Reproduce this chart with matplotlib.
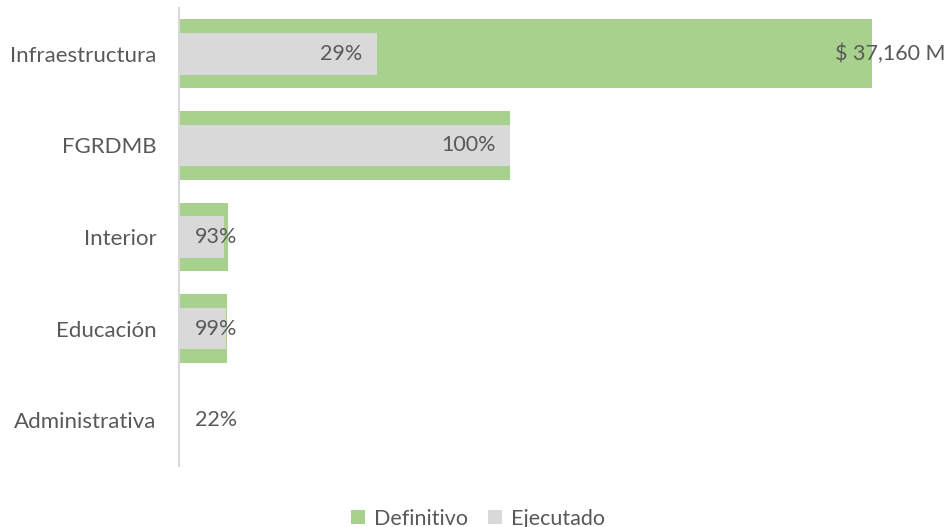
import numpy as np
import matplotlib.pyplot as plt

# datos (millones)
categorias = ["Infraestructura", "FGRDMB", "Interior", "Educación", "Administrativa"]
definitivo = [37160, 17760, 2610, 2560, 30]
ejecutado = [10600, 17760, 2420, 2530, 7]
pct_labels = ["29%", "100%", "93%", "99%", "22%"]
total_label = "$ 37,160 M"

verde = "#A9D18E"
gris = "#D9D9D9"
txt = "#595959"

plt.rcParams['font.family'] = ['Lato', 'DejaVu Sans']
fs = 15.5

fig = plt.figure(figsize=(9.5, 5.27), dpi=100)
ax = fig.add_axes([179/950, 1 - 466/527, (946-179)/950, (466-8)/527])

y = np.arange(len(categorias))
ax.barh(y, definitivo, height=0.75, color=verde, label="Definitivo")
ax.barh(y, ejecutado, height=0.455, color=gris, label="Ejecutado")

xmax = 37160 * (946 - 179) / (871.7 - 179)
ax.set_xlim(0, xmax)
ax.set_ylim(len(categorias) - 0.5, -0.5)

# etiquetas de porcentaje
for i, (v, lab) in enumerate(zip(ejecutado, pct_labels)):
    if v > 5000:
        ax.annotate(lab, (v, i), xytext=(-10.5, 0), textcoords="offset points",
                    ha="right", va="center", fontsize=fs, color=txt)
    else:
        ax.annotate(lab, (0, i), xytext=(11.5, 0), textcoords="offset points",
                    ha="left", va="center", fontsize=fs, color=txt)

ax.annotate(total_label, (definitivo[0], 0), xytext=(-26.4, 0), textcoords="offset points",
            ha="left", va="center", fontsize=fs, color=txt)

ax.set_yticks(y)
ax.set_yticklabels(categorias, fontsize=16, color=txt)
ax.tick_params(axis="y", length=0, pad=16)
ax.set_xticks([])
for s in ["top", "right", "bottom"]:
    ax.spines[s].set_visible(False)
ax.spines["left"].set_color(gris)
ax.spines["left"].set_linewidth(1.5)

fig.legend(loc="lower center", bbox_to_anchor=(0.503, -0.04), ncol=2, frameon=False,
           fontsize=fs, labelcolor=txt, handlelength=0.65, handleheight=0.65,
           handletextpad=0.4, columnspacing=0.95)

fig.savefig("out.png", dpi=100)
